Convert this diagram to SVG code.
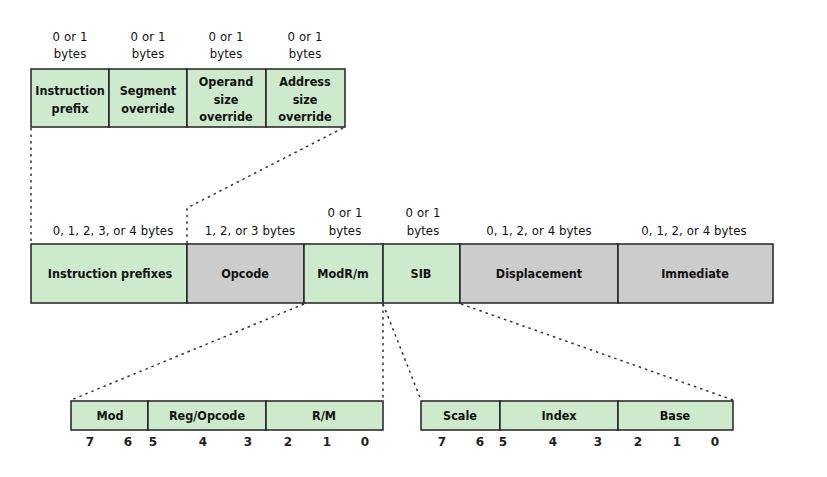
<svg xmlns="http://www.w3.org/2000/svg" width="827" height="477" viewBox="0 0 827 477">
<style>
.g{fill:#cdeacd;stroke:#222;stroke-width:1.5}
.y{fill:#cccccc;stroke:#222;stroke-width:1.5}
.d{fill:none;stroke:#333;stroke-width:1.5;stroke-dasharray:2.5 4}
.b{font-family:"DejaVu Sans Condensed","DejaVu Sans",sans-serif;font-weight:bold;font-size:12.5px;letter-spacing:0px;text-anchor:middle;fill:#111}
.l{font-family:"DejaVu Sans Condensed","DejaVu Sans",sans-serif;font-size:13px;letter-spacing:0.1px;text-anchor:middle;fill:#111}
.n{font-family:"DejaVu Sans","Liberation Sans",sans-serif;font-weight:bold;font-size:12px;text-anchor:middle;fill:#222}
</style>
<rect width="827" height="477" fill="#fff"/>
<g id="connectors">
<path class="d" d="M31,128 V244"/>
<path class="d" d="M343,128 L187,208 V244"/>
<path class="d" d="M304,304 L71,400"/>
<path class="d" d="M383,304 V400"/>
<path class="d" d="M383,304 L421,400"/>
<path class="d" d="M461,304 L733,400"/>
</g>
<g id="prefix-detail">
<rect class="g" x="31" y="69" width="78" height="58"/>
<rect class="g" x="109" y="69" width="78" height="58"/>
<rect class="g" x="187" y="69" width="79" height="58"/>
<rect class="g" x="266" y="69" width="79" height="58"/>
<text class="l" x="70" y="41">0 or 1</text><text class="l" x="70" y="58">bytes</text>
<text class="l" x="148" y="41">0 or 1</text><text class="l" x="148" y="58">bytes</text>
<text class="l" x="226" y="41">0 or 1</text><text class="l" x="226" y="58">bytes</text>
<text class="l" x="305" y="41">0 or 1</text><text class="l" x="305" y="58">bytes</text>
<text class="b" x="70" y="95">Instruction</text><text class="b" x="70" y="113">prefix</text>
<text class="b" x="148" y="95">Segment</text><text class="b" x="148" y="113">override</text>
<text class="b" x="226" y="86">Operand</text><text class="b" x="226" y="104">size</text><text class="b" x="226" y="121">override</text>
<text class="b" x="305" y="86">Address</text><text class="b" x="305" y="104">size</text><text class="b" x="305" y="121">override</text>
</g>
<g id="instruction-prefixes">
<rect class="g" x="31" y="244" width="156" height="59"/>
<text class="l" x="113" y="235">0, 1, 2, 3, or 4 bytes</text>
<text class="b" x="110" y="278">Instruction prefixes</text>
</g>
<g id="opcode">
<rect class="y" x="187" y="244" width="117" height="59"/>
<text class="l" x="250" y="235">1, 2, or 3 bytes</text>
<text class="b" x="245" y="278">Opcode</text>
</g>
<g id="modrm">
<rect class="g" x="304" y="244" width="79" height="59"/>
<text class="l" x="345" y="217">0 or 1</text><text class="l" x="345" y="235">bytes</text>
<text class="b" x="343" y="278">ModR/m</text>
</g>
<g id="sib">
<rect class="g" x="383" y="244" width="77" height="59"/>
<text class="l" x="423" y="217">0 or 1</text><text class="l" x="423" y="235">bytes</text>
<text class="b" x="421" y="278">SIB</text>
</g>
<g id="displacement">
<rect class="y" x="460" y="244" width="158" height="59"/>
<text class="l" x="539" y="235">0, 1, 2, or 4 bytes</text>
<text class="b" x="539" y="278">Displacement</text>
</g>
<g id="immediate">
<rect class="y" x="618" y="244" width="155" height="59"/>
<text class="l" x="694" y="235">0, 1, 2, or 4 bytes</text>
<text class="b" x="695" y="278">Immediate</text>
</g>
<g id="modrm-detail">
<rect class="g" x="71" y="401" width="77" height="29"/>
<rect class="g" x="148" y="401" width="118" height="29"/>
<rect class="g" x="266" y="401" width="117" height="29"/>
<text class="b" x="110" y="420">Mod</text>
<text class="b" x="207" y="420">Reg/Opcode</text>
<text class="b" x="324" y="420">R/M</text>
<text class="n" x="90" y="446">7</text><text class="n" x="128" y="446">6</text><text class="n" x="153" y="446">5</text><text class="n" x="203" y="446">4</text><text class="n" x="248" y="446">3</text><text class="n" x="288" y="446">2</text><text class="n" x="327" y="446">1</text><text class="n" x="365" y="446">0</text>
</g>
<g id="sib-detail">
<rect class="g" x="421" y="401" width="79" height="29"/>
<rect class="g" x="500" y="401" width="118" height="29"/>
<rect class="g" x="618" y="401" width="115" height="29"/>
<text class="b" x="460" y="420">Scale</text>
<text class="b" x="559" y="420">Index</text>
<text class="b" x="675" y="420">Base</text>
<text class="n" x="442" y="446">7</text><text class="n" x="480" y="446">6</text><text class="n" x="503" y="446">5</text><text class="n" x="553" y="446">4</text><text class="n" x="598" y="446">3</text><text class="n" x="638" y="446">2</text><text class="n" x="677" y="446">1</text><text class="n" x="715" y="446">0</text>
</g>
</svg>
